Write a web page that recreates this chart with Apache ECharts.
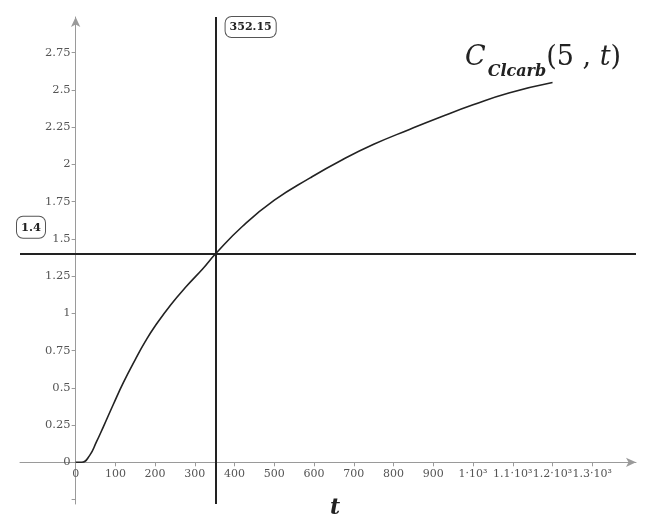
<!DOCTYPE html>
<html>
<head>
<meta charset="utf-8">
<script src="https://cdn.jsdelivr.net/npm/echarts@6/dist/echarts.min.js"></script>
<style>html,body{margin:0;padding:0;background:#fff;}#c{width:646px;height:522px;}</style>
</head>
<body>
<div id="c"></div>
<script>
// data
const tValues = [0, 15, 35, 52, 70, 95, 120, 150, 175, 200, 240, 280, 320, 352.15, 420, 500, 590, 670, 750, 840, 920, 1000, 1090, 1200];
const cValues = [0, 0, 0.045, 0.135, 0.24, 0.39, 0.535, 0.69, 0.81, 0.915, 1.06, 1.185, 1.30, 1.4, 1.585, 1.76, 1.91, 2.03, 2.135, 2.235, 2.32, 2.40, 2.48, 2.55];
const xTicks = [0, 100, 200, 300, 400, 500, 600, 700, 800, 900, 1000, 1100, 1200, 1300];
const yTicks = [0, 0.25, 0.5, 0.75, 1, 1.25, 1.5, 1.75, 2, 2.25, 2.5, 2.75];
const markerT = 352.15;
const markerC = 1.4;

const serif = 'DejaVu Serif';
const chart = echarts.init(document.getElementById('c'), null, {renderer: 'canvas'});
const curve = tValues.map((t, i) => [t, cValues[i]]);

const X_MIN = -140, X_MAX = 1410, Y_MIN = -0.28, Y_MAX = 2.99;
const G = {left: 20, right: 10, top: 17, bottom: 18};
const W = 646 - G.left - G.right, H = 522 - G.top - G.bottom;
// shift the axes (lines and labels) onto the zero lines
const xOffset = -(0 - Y_MIN) / (Y_MAX - Y_MIN) * H;
const yOffset = -(0 - X_MIN) / (X_MAX - X_MIN) * W;

function xFmt(v) {
  if (v >= 1000) return (v / 1000) + '·10³';
  return String(v);
}

chart.setOption({
  backgroundColor: '#ffffff',
  animation: false,
  grid: Object.assign({containLabel: false, outerBoundsMode: 'none'}, G),
  xAxis: {
    type: 'value', min: X_MIN, max: X_MAX, offset: xOffset,
    axisLine: {onZero: false, lineStyle: {color: '#9a9a9a', width: 1}, symbol: ['none', 'arrow'], symbolSize: [7, 10]},
    axisTick: {show: true, length: 4, lineStyle: {color: '#9a9a9a'}, customValues: xTicks},
    axisLabel: {customValues: xTicks, formatter: xFmt, fontFamily: serif, fontSize: 11, color: '#555', margin: 6, hideOverlap: false},
    splitLine: {show: false}
  },
  yAxis: {
    type: 'value', min: Y_MIN, max: Y_MAX, offset: yOffset,
    axisLine: {onZero: false, lineStyle: {color: '#9a9a9a', width: 1}, symbol: ['none', 'arrow'], symbolSize: [7, 10]},
    axisTick: {show: true, length: 4, lineStyle: {color: '#9a9a9a'}, customValues: yTicks.concat([-0.25])},
    axisLabel: {customValues: yTicks, fontFamily: serif, fontSize: 11.5, color: '#555', margin: 5, hideOverlap: false},
    splitLine: {show: false}
  },
  series: [{
    type: 'line', data: curve, smooth: 0.5, symbol: 'none', clip: false,
    lineStyle: {color: '#222', width: 1.6},
    markLine: {
      silent: true, symbol: 'none', animation: false,
      lineStyle: {color: '#222', width: 2, type: 'solid'},
      label: {show: false},
      data: [{xAxis: markerT}, {yAxis: markerC}]
    }
  }]
});

function place() {
  const top = chart.convertToPixel({gridIndex: 0}, [markerT, Y_MAX]);
  const hl = chart.convertToPixel({gridIndex: 0}, [X_MIN, markerC]);
  const mid = chart.convertToPixel({gridIndex: 0}, [655, 0]);
  const boxStyle = {fontFamily: serif, fontSize: 11, fontWeight: 'bold', fill: '#222',
    backgroundColor: '#fff', borderColor: '#555', borderWidth: 1, borderRadius: 6, padding: [5, 4, 4, 4]};
  chart.setOption({graphic: [
    {type: 'text', x: top[0] + 10, y: top[1], style: Object.assign({text: String(markerT)}, boxStyle)},
    {type: 'text', x: hl[0] - 3, y: hl[1] - 37, style: Object.assign({text: String(markerC)}, boxStyle, {fontSize: 11.5})},
    {type: 'text', x: mid[0] - 6, y: mid[1] + 35, style: {text: 't', fontFamily: serif, fontSize: 22, fontStyle: 'italic', fontWeight: 'bold', fill: '#222'}},
    {type: 'text', x: 465, y: 44, style: {
      text: '{c|C}{s|Clcarb}{p|(5}{p| , }{t|t}{p|)}',
      rich: {
        c: {fontFamily: serif, fontStyle: 'italic', fontSize: 27, fill: '#222', lineHeight: 36, verticalAlign: 'top', padding: [0, 2, 0, 0]},
        s: {fontFamily: serif, fontStyle: 'italic', fontWeight: 'bold', fontSize: 16, fill: '#222', lineHeight: 36, verticalAlign: 'bottom'},
        p: {fontFamily: serif, fontSize: 27, fill: '#222', lineHeight: 36, verticalAlign: 'top'},
        t: {fontFamily: serif, fontStyle: 'italic', fontSize: 27, fill: '#222', lineHeight: 36, verticalAlign: 'top'}
      }
    }}
  ]});
}
place();
</script>
</body>
</html>
